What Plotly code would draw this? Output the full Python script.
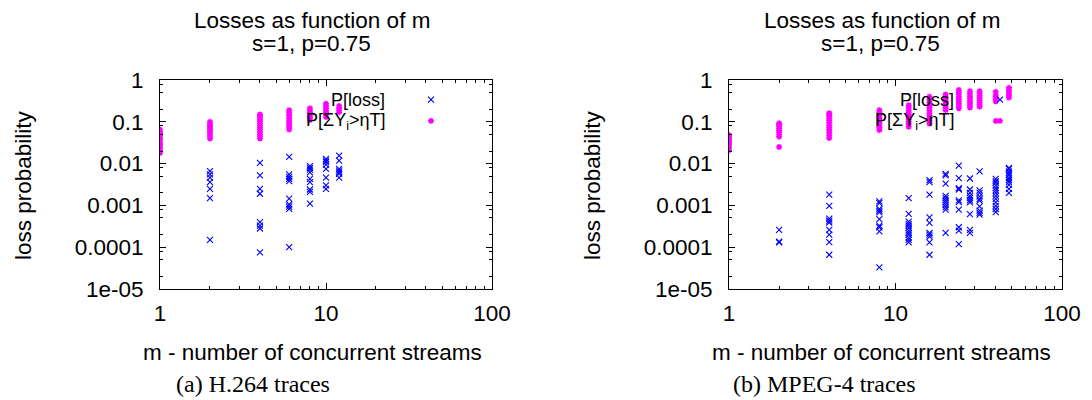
import plotly.graph_objects as go

# ---------------- data ----------------
# (a) H.264 traces
h264_loss_m = [2, 4, 6, 8, 10, 12]
h264_loss_vals = [
    [0.0066, 0.0055, 0.0046, 0.0036, 0.0025, 0.0015, 0.00015],
    [0.0104, 0.0052, 0.0025, 0.0019, 0.0004, 0.00033, 0.00028, 0.000075],
    [0.0145, 0.0055, 0.0048, 0.0043, 0.0038, 0.00145, 0.00105, 0.00093, 0.00083, 0.0001],
    [0.0087, 0.0079, 0.0072, 0.0062, 0.0043, 0.0036, 0.0024, 0.0021, 0.0011],
    [0.0129, 0.0118, 0.0108, 0.0095, 0.0075, 0.0046, 0.0030, 0.0025],
    [0.0155, 0.0118, 0.0075, 0.0068, 0.0062, 0.0057, 0.0046],
]
h264_sum_m = [1, 2, 4, 6, 8, 10, 12]
h264_sum_vals = [
    [0.018, 0.021, 0.024, 0.027, 0.030, 0.034, 0.038, 0.042, 0.047, 0.052, 0.058, 0.065],
    [0.040, 0.045, 0.050, 0.056, 0.062, 0.068, 0.075, 0.082, 0.090, 0.100],
    [0.040, 0.045, 0.050, 0.057, 0.065, 0.072, 0.080, 0.090, 0.100, 0.110, 0.125, 0.140, 0.150],
    [0.065, 0.075, 0.085, 0.095, 0.105, 0.120, 0.135, 0.150, 0.170, 0.190],
    [0.110, 0.125, 0.140, 0.155, 0.170, 0.190, 0.210],
    [0.130, 0.150, 0.170, 0.190, 0.210, 0.240, 0.270],
    [0.170, 0.190, 0.210, 0.240],
]

# (b) MPEG-4 traces
mpeg4_loss_m = [2, 4, 8, 12, 16, 20, 24, 28, 32, 40, 48]
mpeg4_loss_vals = [
    [0.00026, 0.000135, 0.00013],
    [0.0018, 0.00098, 0.00048, 0.00043, 0.00039, 0.00026, 0.0002, 0.000132, 0.000066],
    [0.00125, 0.00114, 0.00082, 0.00074, 0.00068, 0.00047, 0.00033, 0.0003, 0.00024, 0.000033],
    [0.0015, 0.00063, 0.00041, 0.00036, 0.00033, 0.00029, 0.00025, 0.00022, 0.0002, 0.00017, 0.00015, 0.00013],
    [0.004, 0.0036, 0.0018, 0.00052, 0.00038, 0.00022, 0.0002, 0.00018, 0.00013, 0.000066],
    [0.0057, 0.0052, 0.0033, 0.0017, 0.0015, 0.00132, 0.00118, 0.00104, 0.00091, 0.00079, 0.00022],
    [0.0089, 0.0045, 0.0026, 0.0024, 0.00132, 0.0012, 0.00079, 0.0003, 0.00025, 0.000118],
    [0.0044, 0.0024, 0.002, 0.0017, 0.0015, 0.00132, 0.00118, 0.00062, 0.00026, 0.00022],
    [0.0065, 0.0023, 0.002, 0.00165, 0.00143, 0.0013, 0.00095, 0.00075, 0.00066, 0.0006],
    [0.0043, 0.0038, 0.0035, 0.003, 0.0026, 0.0023, 0.002, 0.0017, 0.00143, 0.00118, 0.00098, 0.00082, 0.00069],
    [0.0079, 0.0075, 0.0065, 0.0058, 0.0052, 0.0045, 0.004, 0.0036, 0.0031, 0.0025, 0.002],
]
mpeg4_sum_m = [1, 2, 4, 8, 12, 16, 20, 24, 28, 32, 40, 48]
mpeg4_sum_vals = [
    [0.021, 0.024, 0.027, 0.030, 0.033, 0.036, 0.040, 0.044, 0.048],
    [0.025, 0.044, 0.050, 0.056, 0.062, 0.070, 0.078, 0.085, 0.092],
    [0.041, 0.047, 0.055, 0.063, 0.072, 0.082, 0.094, 0.107, 0.120, 0.135, 0.150, 0.160],
    [0.063, 0.072, 0.082, 0.094, 0.107, 0.120, 0.135, 0.150, 0.170, 0.190],
    [0.076, 0.088, 0.100, 0.115, 0.130, 0.150, 0.170, 0.190, 0.220, 0.250],
    [0.091, 0.105, 0.120, 0.140, 0.160, 0.190, 0.220, 0.250, 0.290, 0.340, 0.400],
    [0.190, 0.210, 0.240, 0.270, 0.300, 0.340, 0.390, 0.450],
    [0.210, 0.240, 0.270, 0.310, 0.350, 0.400, 0.450, 0.510, 0.580],
    [0.220, 0.250, 0.280, 0.320, 0.360, 0.410, 0.470, 0.540],
    [0.230, 0.260, 0.290, 0.330, 0.370, 0.420, 0.480, 0.540],
    [0.105, 0.310, 0.350, 0.390, 0.440, 0.520],
    [0.380, 0.420, 0.470, 0.520, 0.580, 0.650],
]

title_line1 = "Losses as function of m"
title_line2 = "s=1, p=0.75"
x_title = "m - number of concurrent streams"
y_title = "loss probability"
captions = ["(a) H.264 traces", "(b) MPEG-4 traces"]
series_names = ["P[loss]", "P[ΣY<sub>i</sub>&gt;ηT]"]

x_tickvals = [1, 10, 100]
x_ticktext = ["1", "10", "100"]
y_tickvals = [1, 0.1, 0.01, 0.001, 0.0001, 0.00001]
y_ticktext = ["1", "0.1", "0.01", "0.001", "0.0001", "1e-05"]


def flatten(ms, vals):
    xs, ys = [], []
    for m, col in zip(ms, vals):
        for v in col:
            xs.append(m)
            ys.append(v)
    return xs, ys


# ---------------- layout geometry ----------------
W, H = 1092, 400
SANS = "Liberation Sans, Arial, sans-serif"
SERIF = "Liberation Serif, Times New Roman, serif"
BLUE = "#0000ff"
MAGENTA = "#ff00ff"

panels = [
    dict(xd=(160, 492), loss=(h264_loss_m, h264_loss_vals), sm=(h264_sum_m, h264_sum_vals)),
    dict(xd=(729, 1062), loss=(mpeg4_loss_m, mpeg4_loss_vals), sm=(mpeg4_sum_m, mpeg4_sum_vals)),
]
y_dom = ((H - 289) / H, (H - 80) / H)

fig = go.Figure()
annotations = []

minor_x = [v * d for d in (1, 10) for v in range(2, 10)]
minor_y = [v * 10.0 ** e for e in range(-5, 0) for v in (2, 5, 8)]

for i, p in enumerate(panels):
    sfx = "" if i == 0 else str(i + 1)
    lg = "legend" if i == 0 else "legend2"
    lx, ly = flatten(*p["loss"])
    sx, sy = flatten(*p["sm"])
    fig.add_trace(go.Scatter(
        x=lx, y=ly, mode="markers", name=" ", legend=lg,
        xaxis="x" + sfx, yaxis="y" + sfx,
        marker=dict(symbol="x-thin-open", size=6, color=BLUE,
                    line=dict(color=BLUE, width=1.1)),
        hoverinfo="skip"))
    fig.add_trace(go.Scatter(
        x=sx, y=sy, mode="markers", name=" ", legend=lg,
        xaxis="x" + sfx, yaxis="y" + sfx,
        marker=dict(symbol="asterisk-open", size=5, color=MAGENTA,
                    line=dict(color=MAGENTA, width=1.5)),
        hoverinfo="skip"))

    x0, x1 = p["xd"]
    axis_common = dict(
        type="log", showgrid=False, zeroline=False, showline=True,
        automargin=False,
        linecolor="black", linewidth=1, mirror="allticks",
        ticks="inside", ticklen=6, tickwidth=1, tickcolor="black",
        tickfont=dict(family=SANS, size=22.5, color="black"),
        tickmode="array",
    )
    fig.layout["xaxis" + sfx] = dict(
        axis_common, domain=[x0 / W, x1 / W], range=[0, 2],
        anchor="y" + sfx, tickvals=x_tickvals, ticktext=x_ticktext,
        ticklabelstandoff=4,
        minor=dict(tickmode="array", tickvals=minor_x, ticks="inside",
                   ticklen=3, tickcolor="black", tickwidth=1))
    fig.layout["yaxis" + sfx] = dict(
        axis_common, domain=list(y_dom), range=[-5, 0],
        anchor="x" + sfx, tickvals=y_tickvals, ticktext=y_ticktext,
        ticklabelstandoff=11,
        minor=dict(tickmode="array", tickvals=minor_y, ticks="inside",
                   ticklen=3, tickcolor="black", tickwidth=1))

    off = x0 - 160
    def A(text, xpx, ypx, size=22.5, font=SANS, xanchor="center", angle=0):
        annotations.append(dict(
            text=text, x=xpx / W, y=1 - ypx / H, xref="paper", yref="paper",
            showarrow=False, xanchor=xanchor, yanchor="middle", textangle=angle,
            font=dict(family=font, size=size, color="black")))
    A(title_line1, 312 + off + (0.5 if i else 0), 21)
    A(title_line2, 311 + off, 43)
    A(x_title, 312 + off, 352)
    A(y_title, 23 + off, 185, angle=-90)
    A(captions[i], 252.5 if i == 0 else 824.7, 384, size=24, font=SERIF)
    A(series_names[0], 387 + off, 100, size=18, xanchor="right")
    A(series_names[1], 387 + off, 122, size=18, xanchor="right")

    fig.layout[lg] = dict(
        x=(433 + off - 22) / W, y=1 - 84 / H, xanchor="left", yanchor="top",
        bgcolor="rgba(0,0,0,0)", borderwidth=0, tracegroupgap=0,
        font=dict(family=SANS, size=14, color="black"),
        itemclick=False, itemdoubleclick=False)

fig.update_layout(
    template="none",
    width=W, height=H, autosize=False,
    margin=dict(l=0, r=0, t=0, b=0, pad=0),
    paper_bgcolor="white", plot_bgcolor="white",
    showlegend=True, annotations=annotations,
)

fig.write_html("out.html")
